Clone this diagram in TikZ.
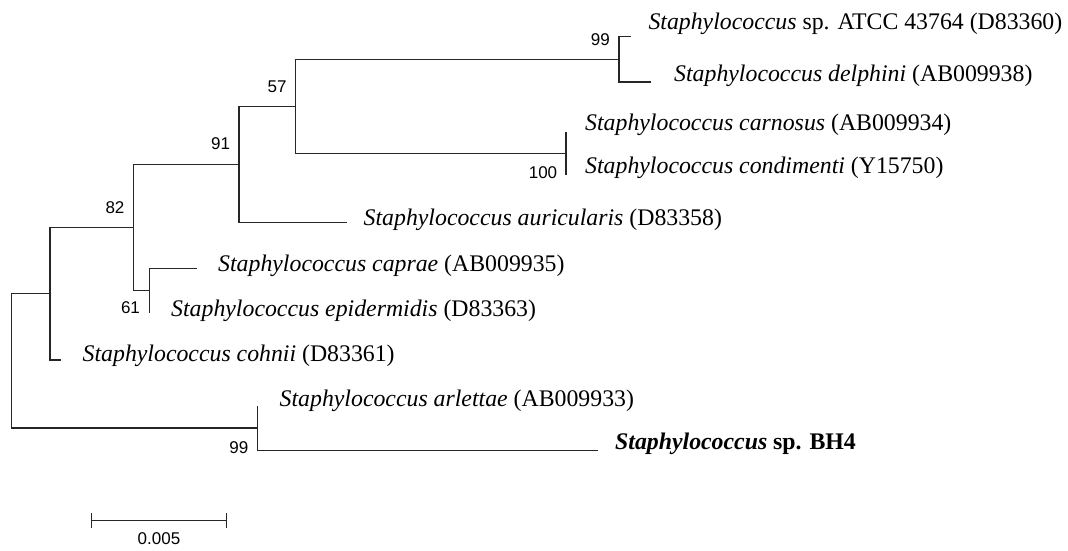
\documentclass[tikz,border=0pt]{standalone}
\usepackage{fontspec}
\setmainfont{Liberation Serif}
\newfontfamily\numfont{Liberation Sans}
\begin{document}
\begin{tikzpicture}[x=1pt,y=-1pt,
  taxon/.style={anchor=base west, inner sep=0pt, font=\fontsize{23.8}{28}\selectfont},
  boot/.style={inner sep=0pt, font=\numfont\fontsize{17}{20}\selectfont},
  branch/.style={line width=1.5pt, line join=miter, draw=black!85}]
\fill[white] (0,0) rectangle (1068,551);
\useasboundingbox (0,0) rectangle (1068,551);
% internal nodes
\coordinate (root) at (11.7,360.5);
\coordinate (n1) at (50,293.5);
\coordinate (n82) at (133.3,227.3);
\coordinate (n91) at (239,164.5);
\coordinate (n57) at (295.7,106.7);
\coordinate (n99a) at (619,59.3);
\coordinate (n100) at (566,153.3);
\coordinate (n61) at (149.3,290.5);
\coordinate (n99b) at (257.3,428);
% tips
\coordinate (tatcc) at (630.7,36.7);
\coordinate (tdel) at (651,82);
\coordinate (tcar) at (566,131.7);
\coordinate (tcon) at (566,175);
\coordinate (taur) at (346.5,222.3);
\coordinate (tcap) at (196.7,268.3);
\coordinate (tepi) at (149.3,312.7);
\coordinate (tcoh) at (60.7,360);
\coordinate (tarl) at (257.3,406);
\coordinate (tbh) at (598.3,450.7);
% branches
\draw[branch] (n1) -| (root) |- (n99b);
\draw[branch] (n82) -| (n1) |- (tcoh);
\draw[branch] (n91) -| (n82) |- (n61);
\draw[branch] (n57) -| (n91) |- (taur);
\draw[branch] (n99a) -| (n57) |- (n100);
\draw[branch] (tatcc) -| (n99a) |- (tdel);
\draw[branch] (tcar) -- (tcon);
\draw[branch] (tcap) -| (n61) |- (tepi);
\draw[branch] (tarl) -- (n99b) |- (tbh);
% taxon labels
\node[taxon] (latcc) at (648.3,29.3) {\textit{Staphylococcus} sp. ATCC 43764 (D83360)};
\node[taxon] (ldel) at (674,81.7) {\textit{Staphylococcus delphini} (AB009938)};
\node[taxon] (lcar) at (585,130.5) {\textit{Staphylococcus carnosus} (AB009934)};
\node[taxon] (lcon) at (585,173) {\textit{Staphylococcus condimenti} (Y15750)};
\node[taxon] (laur) at (363.5,225) {\textit{Staphylococcus auricularis} (D83358)};
\node[taxon] (lcap) at (218,271.5) {\textit{Staphylococcus caprae} (AB009935)};
\node[taxon] (lepi) at (171,316) {\textit{Staphylococcus epidermidis} (D83363)};
\node[taxon] (lcoh) at (82.5,361.7) {\textit{Staphylococcus cohnii} (D83361)};
\node[taxon] (larl) at (279.5,406) {\textit{Staphylococcus arlettae} (AB009933)};
\node[taxon] (lbh) at (615,449.3) {\textbf{\textit{Staphylococcus} sp. BH4}};
% bootstrap values
\node[boot] (b99a) at (600.3,40) {99};
\node[boot] (b57) at (277,86.7) {57};
\node[boot] (b91) at (220.5,144) {91};
\node[boot] (b100) at (543,173) {100};
\node[boot] (b82) at (115,207.5) {82};
\node[boot] (b61) at (130.5,307.5) {61};
\node[boot] (b99b) at (238.8,447.5) {99};
% scale bar
\coordinate (s1) at (91.7,520.7);
\coordinate (s2) at (226.7,520.7);
\draw[branch] (s1) -- (s2);
\draw[branch] ([yshift=-7.5pt]s1) -- ([yshift=7.5pt]s1);
\draw[branch] ([yshift=-7.5pt]s2) -- ([yshift=7.5pt]s2);
\node[boot] (scale) at (159,538.5) {0.005};
\end{tikzpicture}
\end{document}
